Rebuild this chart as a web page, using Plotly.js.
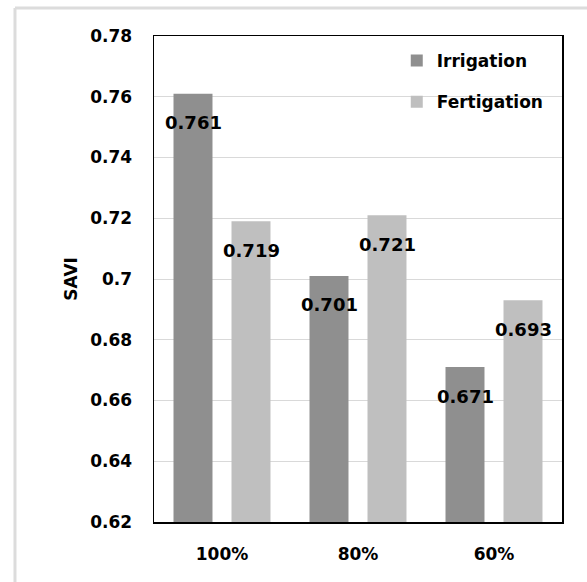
<!DOCTYPE html>
<html>
<head>
<meta charset="utf-8">
<script src="https://cdn.plot.ly/plotly-3.0.1.min.js"></script>
<style>
html,body{margin:0;padding:0;background:#fff;}
#chart{width:587px;height:582px;}
</style>
</head>
<body>
<div id="chart"></div>
<script>
const categories = ['100%', '80%', '60%'];
const irrigation = [0.761, 0.701, 0.671];
const fertigation = [0.719, 0.721, 0.693];
const seriesNames = ['Irrigation', 'Fertigation'];
const yTicks = [0.62, 0.64, 0.66, 0.68, 0.7, 0.72, 0.74, 0.76, 0.78];
const yTickText = ['0.62', '0.64', '0.66', '0.68', '0.7', '0.72', '0.74', '0.76', '0.78'];

const font = {family: 'DejaVu Sans, Verdana, sans-serif', size: 17, color: '#000'};
const boldFont = Object.assign({}, font, {weight: 'bold'});

const traces = [
  {type: 'bar', name: seriesNames[0], x: categories, y: irrigation, legendgroup: 'a',
   marker: {color: '#8f8f8f'}, hoverinfo: 'none'},
  {type: 'bar', name: seriesNames[1], x: categories, y: fertigation, legendgroup: 'b',
   marker: {color: '#bfbfbf'}, hoverinfo: 'none'}
];

const annotations = [];
[irrigation, fertigation].forEach((vals, si) => {
  vals.forEach((v, i) => {
    annotations.push({
      x: categories[i], y: v, xref: 'x', yref: 'y',
      text: '<b>' + v.toFixed(3) + '</b>',
      showarrow: false, xanchor: 'center', yanchor: 'middle',
      xshift: si === 0 ? -29 : 29, yshift: -29,
      font: Object.assign({}, font, {size: 18})
    });
  });
});

const layout = {
  width: 587, height: 582,
  margin: {l: 154, r: 25, t: 36, b: 60},
  paper_bgcolor: '#fff', plot_bgcolor: '#fff',
  barmode: 'group', bargap: 0.147, bargroupgap: 0.328,
  font: font,
  showlegend: true,
  legend: {x: 0.595, y: 0.9856, xanchor: 'left', yanchor: 'top',
           bgcolor: 'rgba(0,0,0,0)', font: boldFont, tracegroupgap: 16,
           traceorder: 'grouped', itemwidth: 30},
  xaxis: {type: 'category', showgrid: false, ticks: '', showline: true, mirror: true,
          linecolor: '#000', linewidth: 1.5, tickfont: boldFont, ticklabelstandoff: 16},
  yaxis: {range: [0.62, 0.78], tickvals: yTicks, ticktext: yTickText,
          showgrid: true, gridcolor: '#d9d9d9', gridwidth: 1,
          showline: true, mirror: true, linecolor: '#000', linewidth: 1.5,
          ticks: '', tickfont: boldFont, ticklabelstandoff: 17, zeroline: false,
          title: {text: '<b>SAVI</b>', font: font, standoff: 8}},
  annotations: annotations,
  shapes: [
    {type: 'line', xref: 'paper', yref: 'paper', x0: -0.3407, x1: -0.3407, y0: 1.0576, y1: -0.13,
     line: {color: '#dcdcdc', width: 3}},
    {type: 'line', xref: 'paper', yref: 'paper', x0: -0.3407, x1: 1.1, y0: 1.0576, y1: 1.0576,
     line: {color: '#dcdcdc', width: 3}}
  ]
};

Plotly.newPlot('chart', traces, layout, {displayModeBar: false, staticPlot: true});
</script>
</body>
</html>
